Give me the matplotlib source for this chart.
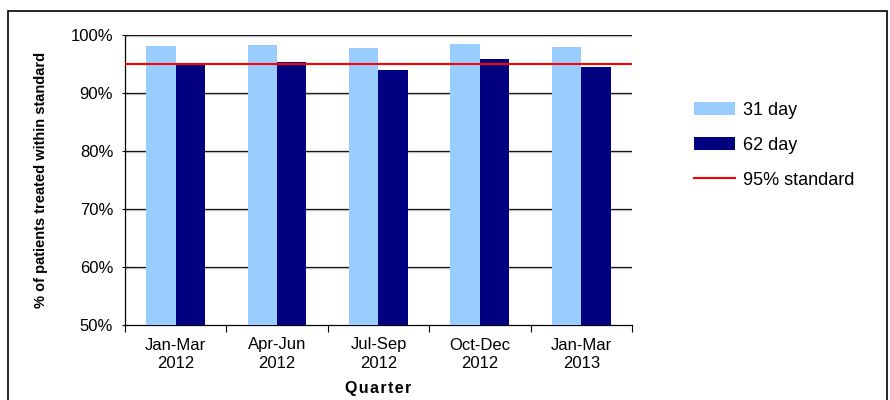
import numpy as np
import matplotlib
matplotlib.use('Agg')
from matplotlib import pyplot as plt
from matplotlib.patches import Rectangle

# quarters and % of patients treated within standard
quarters = ['Jan-Mar\n2012', 'Apr-Jun\n2012', 'Jul-Sep\n2012', 'Oct-Dec\n2012', 'Jan-Mar\n2013']
day31 = [98.1, 98.3, 97.8, 98.4, 97.9]
day62 = [95.0, 95.3, 94.0, 95.9, 94.5]
standard = 95

plt.rcParams['font.family'] = ['Liberation Sans', 'DejaVu Sans']

fig = plt.figure(figsize=(8.9, 4), dpi=100)
ax = fig.add_axes([0.1404, 0.1875, 0.5697, 0.725])

# outer border of the chart
fig.patches.append(Rectangle((8/890, -0.05), 879/890, 1 - 11/400 + 0.05, transform=fig.transFigure,
                             fill=False, edgecolor='black', linewidth=1.2))

x = np.arange(len(quarters))
w = 0.29
b1 = ax.bar(x - w/2, day31, w, color='#99ccff', label='31 day', zorder=3)
b2 = ax.bar(x + w/2, day62, w, color='#000080', label='62 day', zorder=3)
ln = ax.axhline(standard, color='#ff0000', linewidth=1.5, label='95% standard', zorder=4)

ax.set_xlim(-0.5, len(quarters) - 0.5)
ax.set_ylim(50, 100)
ax.set_yticks(np.arange(50, 101, 10))
ax.set_yticklabels(['{}%'.format(v) for v in range(50, 101, 10)], fontsize=12)
ax.set_xticks(x)
ax.set_xticklabels(quarters, fontsize=12, linespacing=1.3)
ax.set_xticks(np.arange(-0.5, len(quarters)), minor=True)
ax.tick_params(axis='x', which='major', length=0, pad=9)
ax.tick_params(axis='x', which='minor', length=5, direction='out', width=0.8)
ax.tick_params(axis='y', length=5, width=0.8, direction='inout', pad=6)

for v in range(60, 101, 10):
    ax.axhline(v, color='black', linewidth=0.9, zorder=1)
    ax.axhline(v - 0.17, color='#bbbbbb', linewidth=0.9, zorder=1)

ax.spines['top'].set_visible(False)
ax.spines['right'].set_visible(False)
ax.spines['left'].set_linewidth(0.9)
ax.spines['bottom'].set_linewidth(0.9)

ax.set_ylabel('% of patients treated within standard', fontsize=10.5, fontweight='bold', labelpad=16)
ax.set_xlabel('\u200a'.join('Quarter'), fontsize=11.5, fontweight='bold', labelpad=7)

ax.legend([b1, b2, ln], ['31 day', '62 day', '95% standard'], loc='center left',
          bbox_to_anchor=(1.09, 0.62), frameon=False, fontsize=13,
          handlelength=2.3, handleheight=0.75, handletextpad=0.4, labelspacing=1.0)

plt.savefig('out.png', dpi=100)
